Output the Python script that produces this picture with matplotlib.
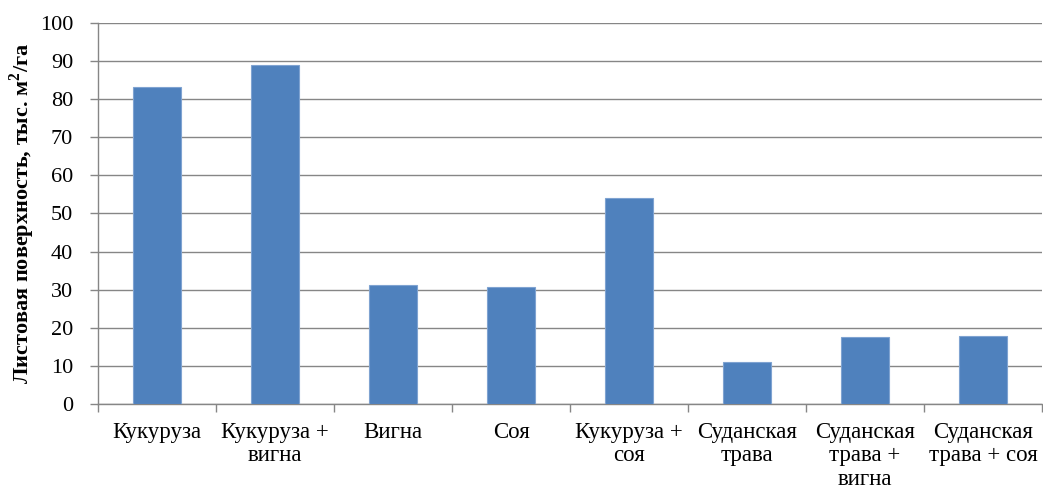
import matplotlib
matplotlib.use("Agg")
import matplotlib.pyplot as plt
import numpy as np

categories = [
    "Кукуруза",
    "Кукуруза +\nвигна",
    "Вигна",
    "Соя",
    "Кукуруза +\nсоя",
    "Суданская\nтрава",
    "Суданская\nтрава +\nвигна",
    "Суданская\nтрава + соя",
]
leaf_area = [83.2, 89.0, 31.3, 30.7, 54.0, 10.9, 17.6, 17.9]
y_ticks = list(range(0, 101, 10))
y_label = "Листовая поверхность, тыс. м$^2$/га"

plt.rcParams["font.family"] = ["Liberation Serif", "DejaVu Serif"]
plt.rcParams["mathtext.fontset"] = "custom"
plt.rcParams["mathtext.rm"] = "Liberation Serif:bold"
plt.rcParams["mathtext.bf"] = "Liberation Serif:bold"

fig = plt.figure(figsize=(10.43, 4.9), dpi=100)
W, H = 1043, 490
ax = fig.add_axes([98 / W, 1 - 404 / H, (1042 - 98) / W, (404 - 23) / H])

grid_color = "#868686"
bar_color = "#4F81BD"

x = np.arange(len(categories))
ax.bar(x, leaf_area, width=0.4, color=bar_color, edgecolor="#7fa3d1",
       linewidth=0.8, zorder=3)

ax.set_xlim(-0.5, len(categories) - 0.5)
ax.set_ylim(0, 100)
ax.set_yticks(y_ticks)
ax.yaxis.grid(True, color=grid_color, linewidth=1.0, zorder=0)
ax.set_axisbelow(True)

# category labels centred between boundary tick marks
ax.set_xticks(x)
ax.set_xticklabels(categories, fontsize=16.5, linespacing=1.15)
ax.tick_params(axis="x", length=0, pad=13)
ax.set_xticks(np.arange(-0.5, len(categories), 1.0), minor=True)
ax.tick_params(axis="x", which="minor", length=6, color=grid_color, width=1.0)

ax.tick_params(axis="y", length=6, color=grid_color, width=1.0, pad=12,
               labelsize=16)

for side in ("top", "right"):
    ax.spines[side].set_visible(False)
for side in ("left", "bottom"):
    ax.spines[side].set_color(grid_color)
    ax.spines[side].set_linewidth(1.0)

ax.set_ylabel(y_label, fontsize=16, fontweight="bold")
ax.yaxis.set_label_coords(-61 / (1042 - 98), 0.5)

fig.savefig("out.png", dpi=100)
